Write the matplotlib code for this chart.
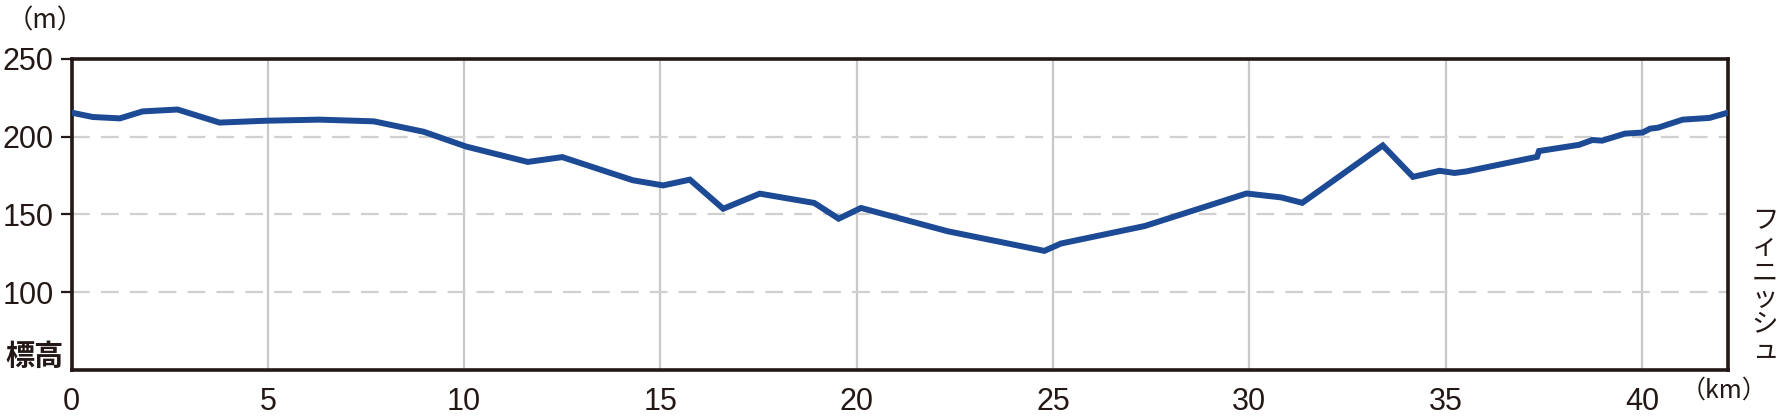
import matplotlib.pyplot as plt

# course profile (distance in km, elevation in m)
km = [0, 0.54, 1.23, 1.81, 2.70, 3.77, 4.95, 6.32, 7.70, 8.97, 10.05, 11.62, 12.5,
      14.3, 15.07, 15.75, 16.6, 17.53, 18.92, 19.54, 20.11, 22.32, 24.78, 25.2,
      27.34, 29.93, 30.81, 31.35, 33.4, 34.17, 34.85, 35.23, 35.53, 37.33, 37.38,
      38.4, 38.74, 38.99, 39.57, 40.02, 40.21, 40.41, 41.04, 41.72, 42.195]
elev = [215.5, 212.7, 211.8, 216.3, 217.5, 209.1, 210.3, 211.0, 209.9, 203.2, 193.7,
        183.8, 186.9, 172.0, 168.7, 172.4, 153.7, 163.4, 157.4, 147.3, 154.2, 139.2,
        126.6, 131.3, 142.6, 163.5, 161.0, 157.5, 194.4, 174.2, 178.1, 176.7, 177.7,
        187.1, 190.8, 194.8, 197.9, 197.5, 202.0, 202.7, 205.2, 205.8, 211.0, 212.1, 215.5]

xticks = [0, 5, 10, 15, 20, 25, 30, 35, 40]
yticks = [100, 150, 200, 250]

num_font = 'Liberation Sans'
jp = ['Noto Sans CJK JP', 'DejaVu Sans']

ink = '#231815'
blue = '#1d4a94'

fig = plt.figure(figsize=(17.8, 4.16), dpi=100)
ax = fig.add_axes([0.0402, 0.1106, 0.9306, 0.7476])

ax.plot(km, elev, color=blue, lw=4.3, solid_joinstyle='miter', zorder=3)

ax.set_xlim(0, 42.195)
ax.set_ylim(50, 250)

# grid: solid verticals, dashed horizontals
for x in xticks[1:]:
    ax.axvline(x, color='#c8c8c8', lw=1.6, zorder=1)
for y in yticks[:-1]:
    ax.axhline(y, color='#d0d0d0', lw=1.6, dashes=(8, 5), zorder=1)

ax.set_xticks(xticks)
ax.set_yticks(yticks)
ax.tick_params(axis='x', length=0, pad=12)
ax.tick_params(axis='y', length=8, width=1.6, color=ink, pad=5)
for lab in ax.get_xticklabels() + ax.get_yticklabels():
    lab.set_fontfamily(num_font)
    lab.set_fontsize(22)
    lab.set_color(ink)

for s in ax.spines.values():
    s.set_color(ink)
    s.set_linewidth(2.6)

fig.text(0.004, 0.95, '（m）', fontsize=19, family=jp, color=ink, ha='left', va='center')
fig.text(0.003, 0.108, '標高', fontsize=21, family=jp, color=ink, ha='left', va='bottom',
         fontweight='bold')
fig.text(0.993, 0.06, '（km）', fontsize=18, family=jp, color=ink, ha='right', va='center')
fig.text(0.9915, 0.125, '\n'.join('フィニッシュ'), fontsize=19, family=jp, color=ink,
         ha='center', va='bottom', linespacing=0.95)

fig.savefig('out.png', dpi=100)
